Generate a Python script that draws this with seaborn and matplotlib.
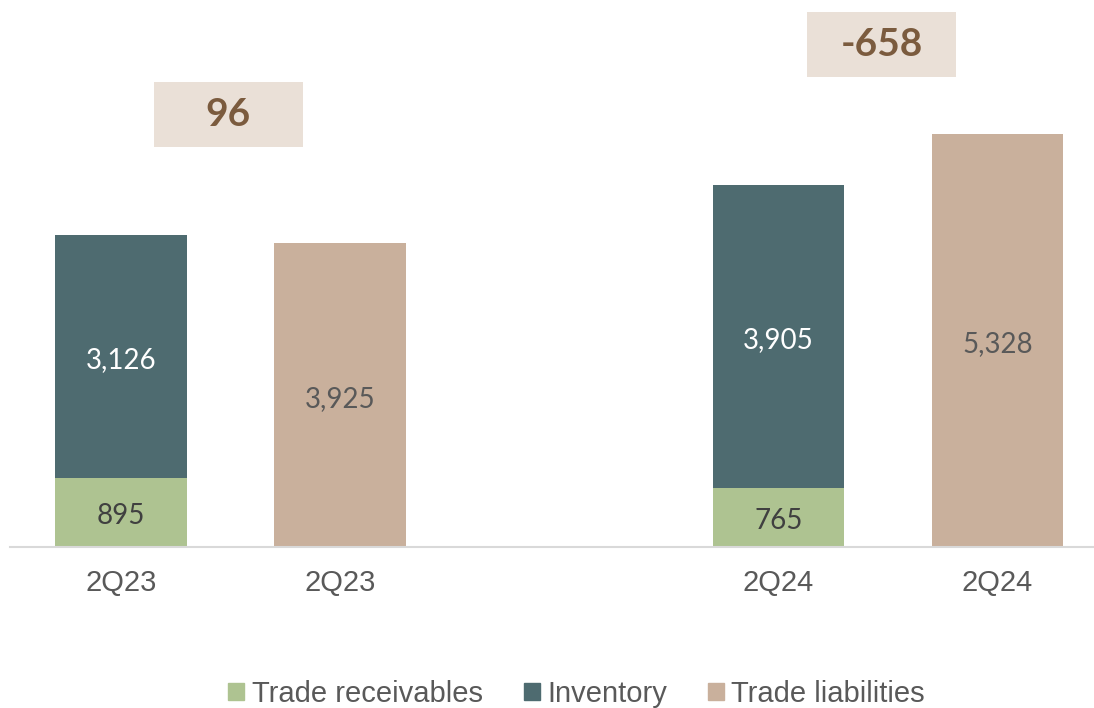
import pandas as pd
import matplotlib
matplotlib.use('Agg')
import matplotlib.pyplot as plt
from matplotlib.patches import Patch, Rectangle
import seaborn as sns

# Data
periods = ['2Q23', '2Q23', '2Q24', '2Q24']
positions = [0, 1, 3, 4]
receivables = [895, 0, 765, 0]
inventory = [3126, 0, 3905, 0]
liabilities = [0, 3925, 0, 5328]
box_labels = ['96', '-658']
box_x = [0.49, 3.47]

green = '#AEC391'
teal = '#4E6B70'
tan = '#C9B09C'
box_face = '#EAE0D7'
box_text = '#7B5B3E'

df = pd.DataFrame({'pos': positions, 'period': periods, 'rec': receivables,
                   'inv': inventory, 'liab': liabilities})
df['total'] = df['rec'] + df['inv']

sns.set_style('white')
plt.rcParams['font.family'] = ['Liberation Sans', 'DejaVu Sans']

fig = plt.figure(figsize=(10.94, 7.08), dpi=100)
ax = fig.add_axes([0.009, 1 - 547 / 708, 0.991, 547 / 708])

# stacked bar: full height first, then receivables on top of it
sns.barplot(data=df, x='pos', y='total', native_scale=True, color=teal,
            width=0.6, saturation=1, ax=ax, linewidth=0)
sns.barplot(data=df, x='pos', y='rec', native_scale=True, color=green,
            width=0.6, saturation=1, ax=ax, linewidth=0)
sns.barplot(data=df, x='pos', y='liab', native_scale=True, color=tan,
            width=0.6, saturation=1, ax=ax, linewidth=0)

lab_font = ['Lato', 'DejaVu Sans']
dy = -50  # nudge labels down a touch
for _, r in df.iterrows():
    if r['total'] > 0:
        ax.text(r['pos'], r['rec'] / 2 + dy, f"{r['rec']:,}", ha='center', va='center',
                fontsize=20, color='#404040', family=lab_font)
        ax.text(r['pos'], r['rec'] + r['inv'] / 2 + dy, f"{r['inv']:,}", ha='center',
                va='center', fontsize=20, color='white', family=lab_font)
    if r['liab'] > 0:
        ax.text(r['pos'], r['liab'] / 2 + dy, f"{r['liab']:,}", ha='center', va='center',
                fontsize=20, color='#595959', family=lab_font)

box_y = [5161, 6065]
for xb, yb, t in zip(box_x, box_y, box_labels):
    ax.add_patch(Rectangle((xb - 0.34, yb), 0.68, 840, facecolor=box_face,
                           edgecolor='none', clip_on=False))
    ax.text(xb, yb + 420, t, ha='center', va='center', fontsize=28,
            fontweight='bold', color=box_text, family=lab_font)

ax.set_xlim(-0.507, 4.44)
ax.set_ylim(0, 547 / 0.0775)
ax.set_xticks(positions)
ax.set_xticklabels(periods, fontsize=21, color='#595959')
ax.tick_params(axis='x', length=0, pad=16)
ax.set_yticks([])
ax.set_xlabel('')
ax.set_ylabel('')
for s in ['top', 'right', 'left']:
    ax.spines[s].set_visible(False)
ax.spines['bottom'].set_color('#D9D9D9')
ax.spines['bottom'].set_linewidth(1.5)

handles = [Patch(color=green, label='Trade receivables'),
           Patch(color=teal, label='Inventory'),
           Patch(color=tan, label='Trade liabilities')]
fig.legend(handles=handles, loc='center', bbox_to_anchor=(0.527, 1 - 694 / 708),
           ncol=3, frameon=False, fontsize=21, handlelength=0.55, handleheight=0.55,
           handletextpad=0.25, columnspacing=1.4, labelcolor='#595959')

fig.savefig('out.png', dpi=100)
